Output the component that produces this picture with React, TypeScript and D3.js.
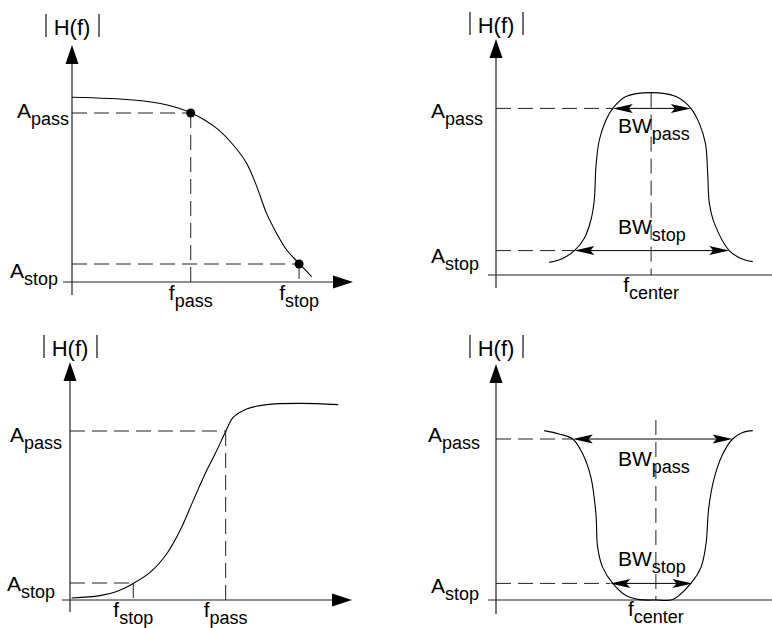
import { curveCatmullRom, line, scaleLinear, select } from 'd3';
import { useEffect, useRef } from 'react';

// magnitude responses, f and |H| in 0..100 units of each panel
const lowF = [0, 22, 34, 42.4, 51.7, 57.6, 62.4, 66, 69.5, 73.1, 76.7, 81.1, 85.6];
const lowH = [92.4, 91, 88.5, 84.6, 76.8, 68.5, 59.3, 47.7, 34.3, 24.3, 16, 9.3, 2.7];

const bandF = [19, 23.8, 28, 31.5, 33.9, 35.1, 35.7, 36.9, 39.3, 41.7, 46.4, 55.4, 64.3, 69.6, 72.6, 74.8, 75.6, 76.2, 78, 83.3, 87.5, 91.7];
const bandH = [6.3, 8.3, 12.2, 18.3, 27.5, 37.5, 54.2, 67.5, 77.5, 83.3, 89.2, 91.2, 89.2, 83.3, 75.8, 65.8, 50.8, 35.8, 25.8, 12.2, 8.3, 6.7];

const highF = [0.6, 10.7, 16.7, 22.6, 28.6, 34.5, 39.3, 44, 48.8, 52.4, 55.6, 58.3, 63.1, 70.2, 82.1, 95.8];
const highH = [1, 2.2, 4.3, 8.3, 13.8, 23, 34.7, 49.7, 64.7, 74.7, 84.3, 91.3, 95.5, 97.7, 98.3, 97.7];

const notchF = [17.2, 22.6, 27.4, 31, 33.9, 35.7, 36.3, 38.1, 41.7, 46.4, 51.2, 57.1, 63.1, 69.6, 73.2, 75, 76, 78, 81, 84.5, 88.1, 91.7];
const notchH = [84.7, 83, 80.5, 73, 61.3, 43, 26.3, 16.3, 8.3, 2.2, 0.2, 0, 0.2, 8.3, 16.3, 28, 46.3, 61.3, 73, 80.5, 83.8, 84.7];

// levels and marked frequencies
const lowLevels = { pass: 84.5, stop: 9, fPass: 42.4, fStop: 81.1 };
const highLevels = { pass: 84.5, stop: 8.5, fPass: 55.6, fStop: 22.6 };
const bandLevels = { pass: 83.3, stop: 12.2, center: 55.4, top: 91.2, passBW: [41.7, 69.6], stopBW: [28, 83.3] };
const notchLevels = { pass: 80.5, stop: 8.3, center: 57.1, top: 90, passBW: [27.4, 84.5], stopBW: [40.8, 70.2] };

const FONT = 'Liberation Sans, Arial, Helvetica, sans-serif';
const DASH = '15 7';

const panels = [
  { ox: 72, oy: 282, yTop: 45, yBot: 295, xLeft: 63, xRight: 353, xArrow: true, hY: 35,
    aPass: [17, 118], aStop: [10, 278], fY: 300 },
  { ox: 496, oy: 275, yTop: 39, yBot: 288, xLeft: 488, xRight: 772, xArrow: false, hY: 33,
    aPass: [431, 118], aStop: [431, 263], fY: 292, bwPassY: 133, bwStopY: 234 },
  { ox: 70, oy: 600, yTop: 362, yBot: 612, xLeft: 62, xRight: 352, xArrow: true, hY: 356,
    aPass: [10, 442], aStop: [7, 591], fY: 617 },
  { ox: 496, oy: 600, yTop: 364, yBot: 614, xLeft: 488, xRight: 772, xArrow: false, hY: 356,
    aPass: [428, 442], aStop: [431, 593], fY: 616, bwPassY: 466, bwStopY: 566 },
];

function subText(g, x, y, main, sub, anchor = 'start') {
  const t = g.append('text')
    .attr('x', x)
    .attr('y', y)
    .attr('text-anchor', anchor)
    .attr('font-family', FONT)
    .attr('font-size', 21)
    .attr('fill', '#000');
  t.append('tspan').text(main);
  t.append('tspan').attr('dy', 7).attr('font-size', 18).text(sub);
}

function dbl(g, x1, x2, y) {
  g.append('line').attr('x1', x1 + 10).attr('x2', x2 - 10).attr('y1', y).attr('y2', y)
    .attr('stroke', '#000').attr('stroke-width', 1);
  g.append('path')
    .attr('d', `M${x1},${y}L${x1 + 20},${y - 4.5}L${x1 + 16},${y}L${x1 + 20},${y + 4.5}Z`)
    .attr('fill', '#000');
  g.append('path')
    .attr('d', `M${x2},${y}L${x2 - 20},${y - 4.5}L${x2 - 16},${y}L${x2 - 20},${y + 4.5}Z`)
    .attr('fill', '#000');
}

function dashed(g, x1, y1, x2, y2) {
  g.append('line')
    .attr('x1', x1).attr('y1', y1).attr('x2', x2).attr('y2', y2)
    .attr('stroke', '#222')
    .attr('stroke-width', 1)
    .attr('stroke-dasharray', DASH);
}

function frame(g, p) {
  g.append('line').attr('x1', p.ox).attr('x2', p.ox).attr('y1', p.yBot).attr('y2', p.yTop + 15)
    .attr('stroke', '#222').attr('stroke-width', 1.2);
  g.append('path')
    .attr('d', `M${p.ox},${p.yTop}L${p.ox - 6.5},${p.yTop + 19}L${p.ox + 6.5},${p.yTop + 19}Z`)
    .attr('fill', '#000');
  g.append('line').attr('x1', p.xLeft).attr('x2', p.xArrow ? p.xRight - 15 : p.xRight)
    .attr('y1', p.oy).attr('y2', p.oy)
    .attr('stroke', '#222').attr('stroke-width', 1.2);
  if (p.xArrow) {
    g.append('path')
      .attr('d', `M${p.xRight},${p.oy}L${p.xRight - 20},${p.oy - 6.5}L${p.xRight - 20},${p.oy + 6.5}Z`)
      .attr('fill', '#000');
  }
  // |H(f)|
  g.append('text').attr('x', p.ox).attr('y', p.hY).attr('text-anchor', 'middle')
    .attr('font-family', FONT).attr('font-size', 22).text('H(f)');
  [p.ox - 26, p.ox + 27].forEach(bx => {
    g.append('line').attr('x1', bx).attr('x2', bx).attr('y1', p.hY - 21).attr('y2', p.hY + 2)
      .attr('stroke', '#222').attr('stroke-width', 1.3);
  });
  subText(g, p.aPass[0], p.aPass[1], 'A', 'pass');
  subText(g, p.aStop[0], p.aStop[1], 'A', 'stop');
}

function scales(p) {
  const x = scaleLinear().domain([0, 100]).range([p.ox, p.ox + 280]);
  const y = scaleLinear().domain([0, 100]).range([p.oy, p.oy - 200]);
  return { x, y };
}

function curve(g, fs, hs, x, y) {
  const pts = fs.map((f, i) => [f, hs[i]]);
  const gen = line()
    .x(d => x(d[0]))
    .y(d => y(d[1]))
    .curve(curveCatmullRom.alpha(0.5));
  g.append('path').attr('d', gen(pts)).attr('fill', 'none').attr('stroke', '#000').attr('stroke-width', 1.1);
}

function edgeFilter(g, p, fs, hs, lv, dots) {
  const { x, y } = scales(p);
  frame(g, p);
  dashed(g, x(0), y(lv.pass), x(lv.fPass), y(lv.pass));
  dashed(g, x(lv.fPass), y(lv.pass), x(lv.fPass), y(0));
  dashed(g, x(0), y(lv.stop), x(lv.fStop), y(lv.stop));
  dashed(g, x(lv.fStop), y(lv.stop), x(lv.fStop), y(0));
  curve(g, fs, hs, x, y);
  if (dots) {
    [[lv.fPass, lv.pass], [lv.fStop, lv.stop]].forEach(d => {
      g.append('circle').attr('cx', x(d[0])).attr('cy', y(d[1])).attr('r', 4.5).attr('fill', '#000');
    });
  }
  subText(g, x(lv.fPass), p.fY, 'f', 'pass', 'middle');
  subText(g, x(lv.fStop), p.fY, 'f', 'stop', 'middle');
}

function bwFilter(g, p, fs, hs, lv) {
  const { x, y } = scales(p);
  frame(g, p);
  dashed(g, x(0), y(lv.pass), x(lv.passBW[0]), y(lv.pass));
  dashed(g, x(0), y(lv.stop), x(lv.stopBW[0]), y(lv.stop));
  dashed(g, x(lv.center), y(lv.top), x(lv.center), y(0));
  curve(g, fs, hs, x, y);
  dbl(g, x(lv.passBW[0]), x(lv.passBW[1]), y(lv.pass));
  dbl(g, x(lv.stopBW[0]), x(lv.stopBW[1]), y(lv.stop));
  subText(g, 618, p.bwPassY, 'BW', 'pass');
  subText(g, 618, p.bwStopY, 'BW', 'stop');
  subText(g, x(lv.center), p.fY, 'f', 'center', 'middle');
}

function FilterSpecs() {
  const svgRef = useRef(null);

  useEffect(() => {
    const svg = select(svgRef.current);
    svg.selectAll('*').remove();
    edgeFilter(svg.append('g'), panels[0], lowF, lowH, lowLevels, true);
    bwFilter(svg.append('g'), panels[1], bandF, bandH, bandLevels);
    edgeFilter(svg.append('g'), panels[2], highF, highH, highLevels, false);
    bwFilter(svg.append('g'), panels[3], notchF, notchH, notchLevels);
  }, []);

  return (
    <svg
      ref={svgRef}
      width={772}
      height={628}
      style={{ position: 'absolute', left: 0, top: 0, background: '#fff' }}
    />
  );
}

export default function App() {
  return <FilterSpecs />;
}
